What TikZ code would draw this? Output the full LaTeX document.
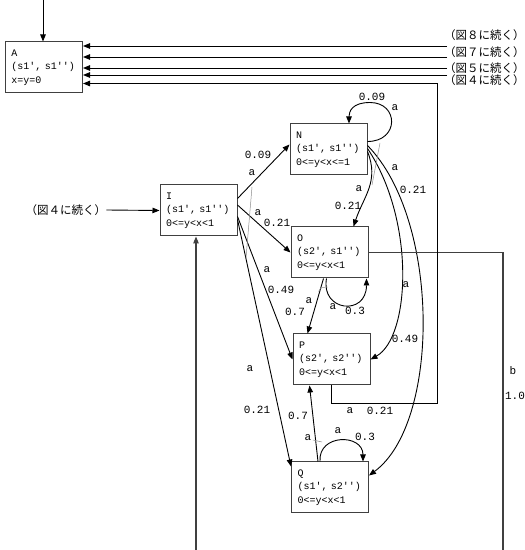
\documentclass[tikz,border=0pt]{standalone}
\usepackage{fontspec}
\newfontfamily\mono{Liberation Mono}
\newfontfamily\cjk{Noto Sans CJK JP}
\usetikzlibrary{arrows.meta,positioning}

\begin{document}
\begin{tikzpicture}[
            x=1pt, y=1pt,
            state/.style={rectangle, draw=black!75, line width=1pt, align=left, text width=65pt, inner xsep=6pt, inner ysep=0pt, minimum height=51pt, font=\mono\fontsize{10}{13.5}\selectfont},
            lbl/.style={font=\mono\fontsize{11}{12}\selectfont, inner sep=0pt},
            cont/.style={font=\cjk\fontsize{11.5}{14}\selectfont, inner sep=0pt},
            arrow/.style={-{Triangle[length=7pt,width=5.5pt]}, line width=0.9pt},
            wire/.style={draw=black!75, line width=1.1pt},
            split/.style={draw=black!45, line width=0.5pt}
        ]
            \useasboundingbox (0,0) rectangle (525,550);

            % --- ESTADOS ---
            \node[state] (A) at (44,482.5) {A\\(s1', s1'')\\x=y=0};
            \node[state] (I) at (198.5,339.5) {I\\(s1', s1'')\\0<=y<x<1};
            \node[state] (N) at (328.5,400.5) {N\\(s1', s1'')\\0<=y<x<=1};
            \node[state, below=51pt of N, xshift=1pt] (O) {O\\(s2', s1'')\\0<=y<x<1};
            \node[state, below=55pt of O, xshift=2pt] (P) {P\\(s2', s2'')\\0<=y<x<1};
            \node[state, below=76pt of P, xshift=-1.5pt] (Q) {Q\\(s1', s2'')\\0<=y<x<1};

            % --- CONTINUACOES ---
            \node[cont, anchor=west] (fig8) at (444,515) {（図８に続く）};
            \node[cont, anchor=west] (fig7) at (444,498) {（図７に続く）};
            \node[cont, anchor=west] (fig5) at (444,482) {（図５に続く）};
            \node[cont, anchor=west] (fig4) at (444,470) {（図４に続く）};
            \node[cont] (fig4in) at (66,340) {（図４に続く）};

            \coordinate (Atop) at (43,550);
            \coordinate (e8) at (447,504);
            \coordinate (e7) at (447,493);
            \coordinate (e5) at (447,482);
            \coordinate (e4) at (447,475);
            \coordinate (PA) at (437,147);
            \coordinate (OIend) at (503,0);
            \coordinate (Ibot) at (196,0);

            \draw[arrow] (Atop) -- (Atop |- A.north);
            \draw[arrow] (e8) -- (e8 -| A.east);
            \draw[arrow] (e7) -- (e7 -| A.east);
            \draw[arrow] (e5) -- (e5 -| A.east);
            \draw[arrow] (e4) -- (e4 -| A.east);
            \draw[arrow] (fig4in.east) -- (I.west);

            % --- SAIDAS DE I ---
            \draw[arrow] ([yshift=12pt]I.east) -- ([yshift=5pt]N.west);
            \draw[arrow] ([yshift=5.5pt]I.east) -- (O.west);
            \draw[arrow] ([yshift=-6pt]I.east) -- (P.west);
            \draw[arrow] ([yshift=-9pt]I.east) -- ([yshift=-5pt]Q.north west);
            \draw[split] (252,363) -- (246,292);
            \node[lbl] (aIN) at (252,377) {a};
            \node[lbl] (pIN) at (258,395) {0.09};
            \node[lbl] (aIO) at (258,337) {a};
            \node[lbl] (pIO) at (277,327) {0.21};
            \node[lbl] (aIP) at (267,280) {a};
            \node[lbl] (pIP) at (281,260) {0.49};
            \node[lbl] (aIQ) at (250,181) {a};
            \node[lbl] (pIQ) at (257,140) {0.21};

            % --- SAIDAS DE N ---
            \draw[arrow] ([yshift=8pt]N.east) .. controls +(32,0) and +(29,0) .. ([xshift=41.5pt,yshift=21pt]N.north)
                .. controls +(-18,0) and +(0,12) .. ([xshift=20.5pt]N.north);
            \draw[arrow] ([yshift=-2pt]N.east) .. controls +(12,-30) and +(10,30) .. ([xshift=-15pt]O.north east);
            \draw[arrow] ([yshift=1pt]N.east) .. controls +(48,-71.5) and +(40,22.5) .. (P.east);
            \draw[arrow] ([yshift=4pt]N.east) .. controls +(73,-74.5) and +(71.5,52.5) .. ([yshift=12pt]Q.east);
            \draw[split] (380,407) -- (372,365);
            \node[lbl] (pNN) at (372,453) {0.09};
            \node[lbl] (aNN) at (395,442) {a};
            \node[lbl] (aNO) at (359,361) {a};
            \node[lbl] (pNO) at (348,344) {0.21};
            \node[lbl] (aNQ) at (395,382) {a};
            \node[lbl] (pNQ) at (413,360) {0.21};
            \node[lbl] (aNP) at (406,265) {a};
            \node[lbl] (pNP) at (405,211) {0.49};

            % --- SAIDAS DE O ---
            \draw[arrow] ([xshift=-3pt]O.south) .. controls +(-6,-33) and +(0,-38) .. ([xshift=-2pt]O.south east);
            \draw[arrow] ([xshift=-6pt]O.south) -- ([xshift=-24pt]P.north);
            \draw[split] (318.5,258.5) .. controls (321,262.5) .. (327.5,263);
            \node[lbl] (aOO) at (333,243) {a};
            \node[lbl] (pOO) at (355,239) {0.3};
            \node[lbl] (aOP) at (309,249) {a};
            \node[lbl] (pOP) at (295,238) {0.7};
            \draw[wire] (O.east) -| (OIend);
            \draw[arrow, draw=black!75, line width=1.1pt] (Ibot) -- (Ibot |- I.south);
            \node[lbl] (bOI) at (513,179) {b};
            \node[lbl] (pOI) at (515,154) {1.0};

            % --- SAIDAS DE P ---
            \draw[arrow] (P.south) |- (PA) |- ([yshift=-16pt]A.east);
            \node[lbl] (aPA) at (350,139) {a};
            \node[lbl] (pPA) at (380,139) {0.21};

            % --- SAIDAS DE Q ---
            \draw[arrow] ([xshift=-10pt]Q.north) .. controls +(-2,28) and +(0,28) .. ([xshift=-6pt]Q.north east);
            \draw[arrow] ([xshift=-12pt]Q.north) -- ([xshift=-22pt]P.south);
            \draw[split] (313,110) -- (322,108);
            \node[lbl] (pQP) at (298,134) {0.7};
            \node[lbl] (aQP) at (308,112) {a};
            \node[lbl] (aQQ) at (338,119) {a};
            \node[lbl] (pQQ) at (365,113) {0.3};

        \end{tikzpicture}
\end{document}
